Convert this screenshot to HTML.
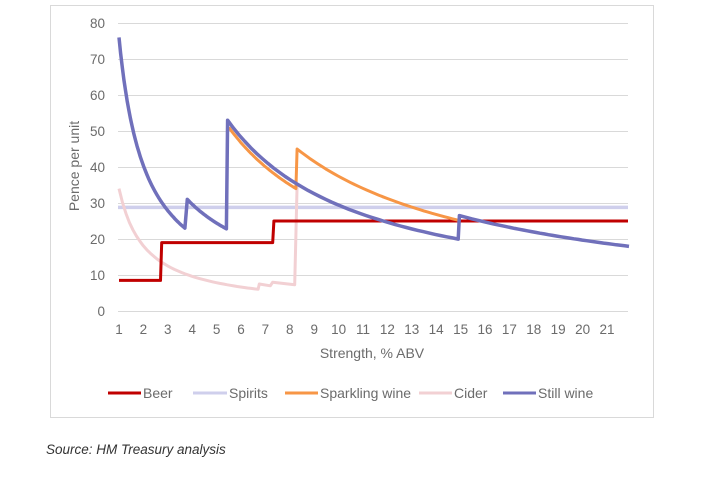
<!DOCTYPE html>
<html><head><meta charset="utf-8"><style>
body{margin:0;background:#fff;width:703px;height:492px;overflow:hidden;font-family:"Liberation Sans",sans-serif}
</style></head><body>
<svg id="s" width="703" height="492" xmlns="http://www.w3.org/2000/svg" font-family="Liberation Sans, sans-serif">
<rect x="50.5" y="5.5" width="603" height="412" fill="none" stroke="#d9d9d9"/>
<g id="grid" stroke="#d9d9d9" stroke-width="1"></g>
<g id="yl" font-size="13.5" fill="#6b6b6b" text-anchor="end"></g>
<g id="xl" font-size="13.5" fill="#6b6b6b" text-anchor="middle"></g>
<text x="79" y="166" font-size="14" fill="#6b6b6b" text-anchor="middle" transform="rotate(-90 79 166)">Pence per unit</text>
<text x="372" y="358" font-size="14" fill="#6b6b6b" text-anchor="middle">Strength, % ABV</text>
<g id="lines" fill="none" stroke-linejoin="round"></g>
<g font-size="14" fill="#6b6b6b">
<line x1="108" y1="393" x2="141" y2="393" stroke="#c00000" stroke-width="3"/><text x="143" y="398">Beer</text>
<line x1="193" y1="393" x2="227" y2="393" stroke="#cfcfec" stroke-width="3"/><text x="229" y="398">Spirits</text>
<line x1="285" y1="393" x2="318" y2="393" stroke="#f79646" stroke-width="3"/><text x="320" y="398">Sparkling wine</text>
<line x1="419" y1="393" x2="452" y2="393" stroke="#f2d0d3" stroke-width="3"/><text x="454" y="398">Cider</text>
<line x1="503" y1="393" x2="536" y2="393" stroke="#7070bb" stroke-width="3"/><text x="538" y="398">Still wine</text>
</g>
<text x="46" y="454" font-size="13.5" font-style="italic" fill="#333">Source: HM Treasury analysis</text>
</svg>
<script>
const X=a=>119+(a-1)*24.4, Y=v=>311-v*3.6;
const ns="http://www.w3.org/2000/svg";
function el(p,t,at){const e=document.createElementNS(ns,t);for(const k in at)e.setAttribute(k,at[k]);document.getElementById(p).appendChild(e);return e;}
for(let v=0;v<=80;v+=10){el("grid","line",{x1:118,x2:628,y1:Y(v)+.5,y2:Y(v)+.5});el("yl","text",{x:105,y:Y(v)+5}).textContent=v;}
for(let a=1;a<=21;a++){el("xl","text",{x:X(a),y:334}).textContent=a;}
function curve(a0,a1,v0,p){let s=[];for(let i=0;i<=40;i++){const a=a0+(a1-a0)*i/40;s.push([X(a),Y(v0*Math.pow(a/a0,-p))]);}return s;}
function path(pts){return "M"+pts.map(q=>q[0].toFixed(1)+","+q[1].toFixed(1)).join("L");}
el("lines","line",{x1:118,x2:628,y1:Y(28.8),y2:Y(28.8),stroke:"#cfcfec","stroke-width":3.5});
let c=[...curve(1,6.7,34,0.91),[X(6.75),Y(7.5)],[X(7.2),Y(7)],[X(7.3),Y(8)],[X(8.2),Y(7.3)],[X(8.3),Y(35)]];
el("lines","path",{d:path(c),stroke:"#f2d0d3","stroke-width":3});
el("lines","path",{d:path([[X(1),Y(8.5)],[X(2.7),Y(8.5)],[X(2.75),Y(19)],[X(7.3),Y(19)],[X(7.35),Y(25)],[628,Y(25)]]),stroke:"#c00000","stroke-width":3});
let sp=[...curve(5.5,8.25,51,1.0),[X(8.3),Y(45)],...curve(8.3,15,45,0.99)];
el("lines","path",{d:path(sp),stroke:"#f79646","stroke-width":3});
let st=[...curve(1,3.7,76,0.913),[X(3.8),Y(31)],...curve(3.8,5.4,31,0.87).slice(1),[X(5.45),Y(53)],...curve(5.45,14.9,53,0.97).slice(1),[X(14.95),Y(26.5)],...curve(14.95,21.9,26.5,1.02).slice(1)];
el("lines","path",{d:path(st),stroke:"#7070bb","stroke-width":3.5});
</script>
</body></html>
